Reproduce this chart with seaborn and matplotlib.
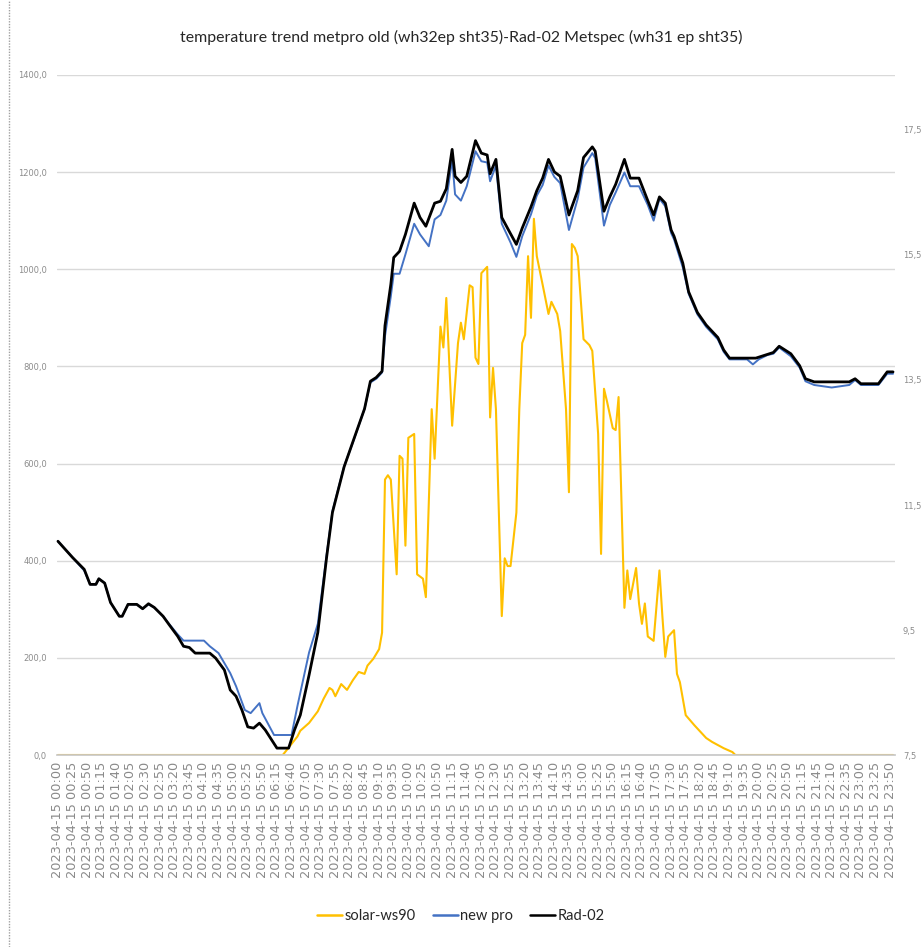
import pandas as pd
import matplotlib
matplotlib.use("Agg")
import matplotlib.pyplot as plt
from matplotlib.lines import Line2D
from matplotlib.ticker import FuncFormatter, FixedLocator
import seaborn as sns

DAY = "2023-04-15"
TITLE = "temperature trend metpro old (wh32ep sht35)-Rad-02 Metspec (wh31 ep sht35)"

# 5 minute log, the 21:20 reading is missing in the export
time_labels = [t.strftime("%H:%M")
               for t in pd.date_range(f"{DAY} 00:00", f"{DAY} 23:55", freq="5min")
               if t.strftime("%H:%M") != "21:20"]

# Rad-02 (secondary axis, degC)
rad02_times = ["00:00", "00:25", "00:45", "00:55", "01:05", "01:10", "01:20", "01:30", "01:45", "01:50",
               "02:00", "02:15", "02:25", "02:35", "02:45", "03:00", "03:10", "03:25", "03:35", "03:45",
               "03:55", "04:20", "04:30", "04:45", "04:55", "05:05", "05:15", "05:25", "05:35", "05:45",
               "05:55", "06:15", "06:35", "06:45", "06:55", "07:10", "07:25", "07:40", "07:50", "08:10",
               "08:25", "08:45", "08:55", "09:05", "09:15", "09:20", "09:30", "09:35", "09:45", "09:55",
               "10:10", "10:20", "10:30", "10:45", "10:55", "11:05", "11:15", "11:20", "11:30", "11:40",
               "11:55", "12:05", "12:15", "12:20", "12:30", "12:40", "12:55", "13:05", "13:15", "13:30",
               "13:40", "13:50", "14:00", "14:10", "14:20", "14:35", "14:50", "15:00", "15:15", "15:20",
               "15:35", "15:45", "15:55", "16:10", "16:20", "16:35", "16:50", "17:00", "17:10", "17:20",
               "17:30", "17:35", "17:50", "18:00", "18:15", "18:30", "18:50", "19:00", "19:10", "19:55",
               "20:15", "20:25", "20:35", "20:55", "21:10", "21:25", "21:40", "22:40", "22:50", "23:00",
               "23:30", "23:45", "23:55"]
rad02_vals = [10.92, 10.66, 10.47, 10.23, 10.23, 10.32, 10.25, 9.94, 9.72, 9.72,
              9.91, 9.91, 9.84, 9.92, 9.86, 9.72, 9.59, 9.40, 9.24, 9.22,
              9.13, 9.13, 9.05, 8.86, 8.54, 8.44, 8.22, 7.95, 7.93, 8.01,
              7.90, 7.61, 7.61, 7.90, 8.14, 8.78, 9.46, 10.66, 11.38, 12.11,
              12.51, 13.04, 13.48, 13.54, 13.64, 14.37, 15.03, 15.46, 15.56, 15.83,
              16.33, 16.10, 15.96, 16.33, 16.36, 16.56, 17.19, 16.76, 16.66, 16.76,
              17.33, 17.13, 17.10, 16.80, 17.03, 16.10, 15.84, 15.67, 15.93, 16.27,
              16.53, 16.73, 17.03, 16.83, 16.76, 16.14, 16.53, 17.06, 17.23, 17.16,
              16.20, 16.43, 16.63, 17.03, 16.73, 16.73, 16.37, 16.14, 16.43, 16.33,
              15.90, 15.80, 15.37, 14.91, 14.58, 14.38, 14.18, 13.98, 13.85, 13.85,
              13.91, 13.94, 14.04, 13.92, 13.73, 13.52, 13.47, 13.47, 13.52, 13.44,
              13.44, 13.63, 13.63]

# new pro (secondary axis, degC)
newpro_times = ["00:00", "00:25", "00:45", "00:55", "01:05", "01:10", "01:20", "01:30", "01:45", "01:50",
                "02:00", "02:15", "02:25", "02:35", "02:45", "03:00", "03:10", "03:25", "03:35", "04:10",
                "04:20", "04:35", "04:45", "04:55", "05:05", "05:20", "05:30", "05:45", "05:50", "06:10",
                "06:40", "06:50", "07:10", "07:25", "07:40", "07:50", "08:10", "08:25", "08:45", "08:55",
                "09:05", "09:15", "09:20", "09:30", "09:35", "09:45", "09:55", "10:10", "10:20", "10:35",
                "10:45", "10:55", "11:05", "11:15", "11:20", "11:30", "11:40", "11:55", "12:05", "12:15",
                "12:20", "12:30", "12:40", "12:55", "13:05", "13:15", "13:30", "13:40", "13:50", "14:00",
                "14:10", "14:20", "14:35", "14:50", "15:00", "15:15", "15:20", "15:35", "15:45", "15:55",
                "16:10", "16:20", "16:35", "16:50", "17:00", "17:10", "17:20", "17:30", "17:35", "17:50",
                "18:00", "18:15", "18:30", "18:50", "19:00", "19:10", "19:40", "19:50", "20:00", "20:15",
                "20:25", "20:35", "20:55", "21:10", "21:25", "21:40", "22:10", "22:40", "22:50", "23:00",
                "23:30", "23:45", "23:55"]
newpro_vals = [10.92, 10.66, 10.45, 10.23, 10.23, 10.32, 10.25, 9.94, 9.72, 9.72,
               9.91, 9.91, 9.84, 9.91, 9.86, 9.72, 9.60, 9.43, 9.33, 9.33,
               9.24, 9.13, 8.97, 8.81, 8.60, 8.22, 8.17, 8.33, 8.17, 7.82,
               7.82, 8.28, 9.14, 9.60, 10.70, 11.40, 12.12, 12.50, 13.04, 13.46,
               13.52, 13.62, 14.20, 14.84, 15.20, 15.20, 15.51, 16.00, 15.83, 15.64,
               16.07, 16.14, 16.37, 17.03, 16.47, 16.37, 16.60, 17.16, 17.00, 16.98,
               16.68, 16.93, 16.00, 15.70, 15.47, 15.80, 16.15, 16.45, 16.62, 16.93,
               16.75, 16.65, 15.90, 16.40, 16.90, 17.13, 17.05, 15.97, 16.30, 16.50,
               16.82, 16.60, 16.60, 16.30, 16.05, 16.40, 16.28, 15.85, 15.75, 15.30,
               14.88, 14.55, 14.35, 14.15, 13.95, 13.83, 13.83, 13.75, 13.83, 13.90,
               13.92, 14.02, 13.88, 13.70, 13.48, 13.42, 13.38, 13.42, 13.50, 13.42,
               13.42, 13.60, 13.60]

# solar-ws90 (primary axis, W/m2)
solar_times = ["00:00", "06:25", "06:50", "06:55", "07:10", "07:25", "07:35", "07:45", "07:50", "07:55",
               "08:05", "08:15", "08:25", "08:35", "08:45", "08:50", "09:00", "09:10", "09:15", "09:20",
               "09:25", "09:30", "09:40", "09:45", "09:50", "09:55", "10:00", "10:10", "10:15", "10:25",
               "10:30", "10:40", "10:45", "10:55", "11:00", "11:05", "11:15", "11:25", "11:30", "11:35",
               "11:45", "11:50", "11:55", "12:00", "12:05", "12:15", "12:20", "12:25", "12:30", "12:40",
               "12:45", "12:50", "12:55", "13:05", "13:10", "13:15", "13:20", "13:25", "13:30", "13:35",
               "13:40", "13:50", "14:00", "14:05", "14:15", "14:20", "14:30", "14:35", "14:40", "14:45",
               "14:50", "15:00", "15:10", "15:15", "15:25", "15:30", "15:35", "15:40", "15:50", "15:55",
               "16:00", "16:10", "16:15", "16:20", "16:30", "16:35", "16:40", "16:45", "16:50", "17:00",
               "17:10", "17:15", "17:20", "17:25", "17:35", "17:40", "17:45", "17:55", "18:10", "18:20",
               "18:30", "18:40", "19:00", "19:15", "19:20", "23:55"]
solar_vals = [0, 0, 38, 50, 66, 90, 116, 138, 134, 121,
              146, 134, 154, 171, 167, 184, 198, 218, 252, 567,
              576, 567, 372, 616, 610, 431, 653, 661, 372, 363,
              325, 712, 610, 882, 839, 941, 678, 848, 890, 856,
              967, 963, 818, 805, 992, 1005, 695, 797, 712, 286,
              405, 389, 389, 499, 712, 848, 865, 1027, 900, 1104,
              1027, 968, 908, 933, 908, 873, 712, 541, 1052, 1044,
              1027, 856, 844, 832, 661, 414, 754, 729, 673, 669,
              737, 303, 380, 321, 385, 312, 270, 312, 244, 235,
              380, 286, 202, 244, 257, 167, 150, 82, 61, 48,
              35, 27, 14, 6, 0, 0]

sns.set_theme(style="white")
plt.rcParams["font.family"] = ["DejaVu Sans"]

pos = {t: i for i, t in enumerate(time_labels)}
W, H = 922, 947
fig = plt.figure(figsize=(W / 100, H / 100), dpi=100)
ax = fig.add_axes([56.5 / W, 192 / H, (894.5 - 56.5) / W, 680 / H])
ax2 = ax.twinx()

sns.lineplot(x=[pos[t] for t in solar_times], y=solar_vals, ax=ax,
             color="#FFC000", linewidth=1.5, legend=False)
sns.lineplot(x=[pos[t] for t in newpro_times], y=newpro_vals, ax=ax2,
             color="#4472C4", linewidth=1.4, legend=False)
sns.lineplot(x=[pos[t] for t in rad02_times], y=rad02_vals, ax=ax2,
             color="black", linewidth=2.0, legend=False)

comma = FuncFormatter(lambda v, p: f"{v:.1f}".replace(".", ","))
ax.set_xlim(-0.5, len(time_labels) - 0.5)
ax.set_ylim(0, 1400)
ax.yaxis.set_major_locator(FixedLocator(range(0, 1401, 200)))
ax.yaxis.set_major_formatter(comma)
ax2.set_ylim(7.5, 18.38)
ax2.yaxis.set_major_locator(FixedLocator([7.5, 9.5, 11.5, 13.5, 15.5, 17.5]))
ax2.yaxis.set_major_formatter(comma)

xt = list(range(0, len(time_labels), 5))
ax.set_xticks(xt)
ax.set_xticklabels([f"{DAY} {time_labels[i]}" for i in xt], rotation=90)

ax.set_axisbelow(True)
ax.yaxis.grid(True, color="#d9d9d9", linewidth=1)
ax.xaxis.grid(False)
for a in (ax, ax2):
    for s in a.spines.values():
        s.set_visible(False)
    a.set_xlabel("")
    a.set_ylabel("")
ax.spines["bottom"].set_visible(True)
ax.spines["bottom"].set_color("#c8c8c8")

ax.tick_params(axis="x", length=0, pad=5, labelsize=9.3, labelcolor="#8a8a8a")
ax.tick_params(axis="y", length=0, pad=7, labelsize=6, labelcolor="#8c8c8c")
ax2.tick_params(axis="y", length=0, pad=6, labelsize=6, labelcolor="#8c8c8c")

# title stretched to the width it has in the original (about 559 px)
title = fig.text(0.5, 1 - 37 / H, TITLE, ha="center", va="center",
                 fontsize=11, family="Lato", color="#262626")
renderer = fig.canvas.get_renderer()
title.set_fontsize(11 * 559 / title.get_window_extent(renderer).width)

handles = [Line2D([], [], color="#FFC000", lw=1.8),
           Line2D([], [], color="#4472C4", lw=1.8),
           Line2D([], [], color="black", lw=1.8)]
fig.legend(handles, ["solar-ws90", "new pro", "Rad-02"], loc="center",
           bbox_to_anchor=(0.5, 1 - 916 / H), ncol=3, frameon=False,
           handlelength=1.7, handletextpad=0.15, columnspacing=1.2,
           prop={"family": "Lato", "size": 10.5})

# dotted chart-area border on the left edge
fig.add_artist(Line2D([8.5 / W, 8.5 / W], [0, 1], transform=fig.transFigure,
                      linestyle=(0, (1, 1)), color="#a0a0a0", linewidth=1))

fig.savefig("out.png", dpi=100)
